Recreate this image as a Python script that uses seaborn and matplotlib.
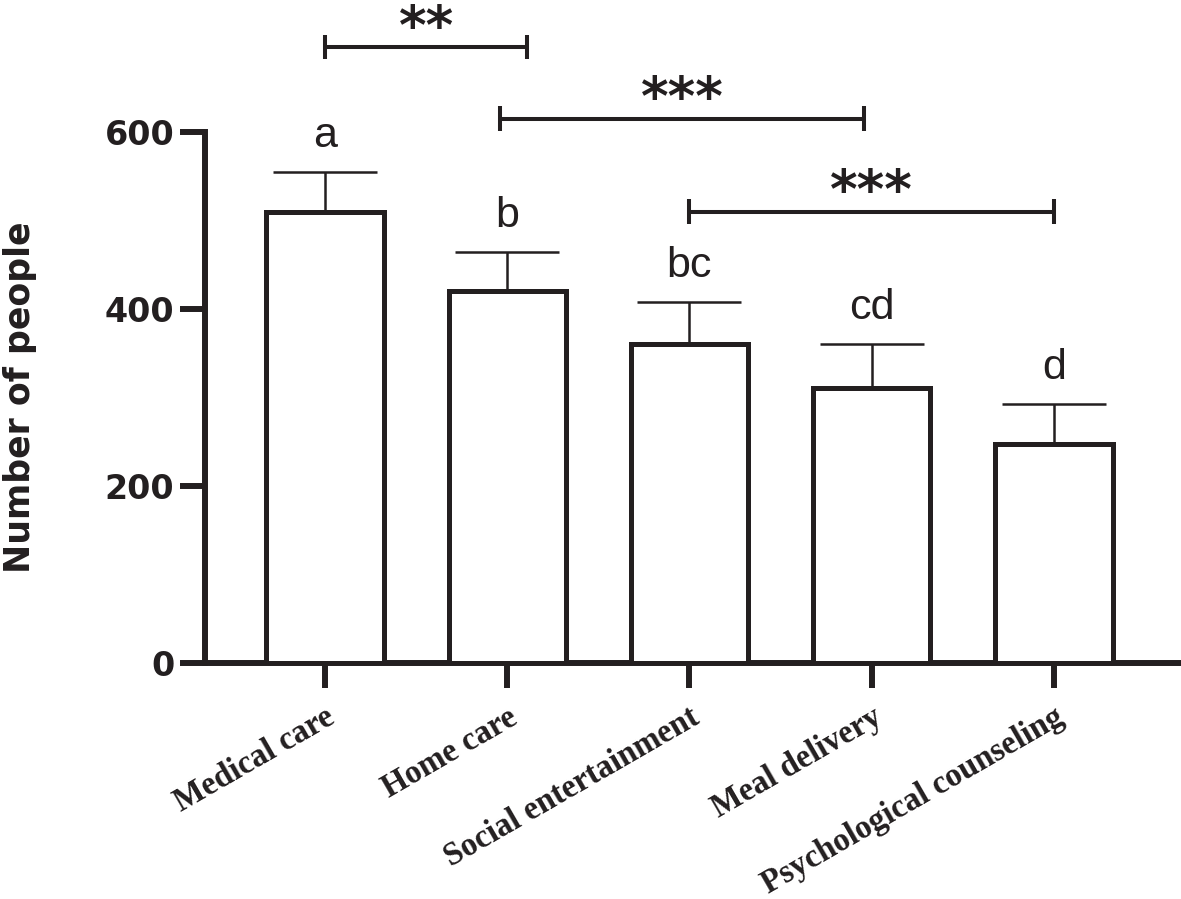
import matplotlib
matplotlib.use("Agg")
import matplotlib.pyplot as plt
import matplotlib.transforms as mtransforms
import seaborn as sns
import pandas as pd

# ---- data ----
categories = ["Medical care", "Home care", "Social entertainment",
              "Meal delivery", "Psychological counseling"]
means = [510, 420, 361, 311, 248]
errors = [45, 44, 47, 50, 45]
letters = ["a", "b", "bc", "cd", "d"]
y_ticks = [0, 200, 400, 600]
# significance brackets: (start position, end position, height, label)
bracket_start = [0.0, 0.96, 2.0]
bracket_end = [1.11, 2.96, 4.0]
bracket_height = [696, 615, 510]
bracket_label = ["**", "***", "***"]

INK = "#231f20"

sns.set_theme(style="ticks")
plt.rcParams["font.family"] = ["DejaVu Sans"]

fig = plt.figure(figsize=(11.81, 8.99), dpi=100)
ax = fig.add_axes([205 / 1181, (899 - 663) / 899, 1 - 205 / 1181, (663 - 132) / 899])

df = pd.DataFrame({"category": categories, "value": means})
sns.barplot(data=df, x="category", y="value", order=categories, ax=ax,
            color="white", edgecolor=INK, linewidth=3.6, width=0.643,
            errorbar=None, zorder=3)
for p in ax.patches:
    p.set_facecolor("white")
    p.set_edgecolor(INK)
    p.set_zorder(3)

xs = list(range(len(categories)))
ax.errorbar(xs, means, yerr=errors, fmt="none", ecolor=INK, elinewidth=1.8,
            capsize=37.8, capthick=1.8, zorder=2)

for x, m, e, lab in zip(xs, means, errors, letters):
    ax.annotate(lab, (x, m + e), xytext=(0, 18), textcoords="offset points",
                ha="center", va="baseline", fontsize=31, color=INK,
                family="Liberation Sans")

for x1, x2, h, lab in zip(bracket_start, bracket_end, bracket_height, bracket_label):
    ax.plot([x1, x2], [h, h], color=INK, lw=2.9, clip_on=False, solid_capstyle="butt")
    for xx in (x1, x2):
        ax.plot([xx, xx], [h - 14, h + 14], color=INK, lw=2.9, clip_on=False,
                solid_capstyle="butt")
    ax.annotate(lab, ((x1 + x2) / 2, h), xytext=(0, 2.5), textcoords="offset points",
                ha="center", va="baseline", fontsize=38, fontweight="bold",
                color=INK, family="DejaVu Sans", annotation_clip=False)

ax.set_ylim(0, 600)
ax.set_xlim(-0.658, 4.697)
ax.set_yticks(y_ticks)
ax.set_yticklabels([str(t) for t in y_ticks], fontsize=24, fontweight="heavy",
                   color=INK, family="DejaVu Sans")
ax.set_xticks(xs)
ax.set_xticklabels(categories, fontsize=23.5, fontweight="bold", color=INK,
                   family="Liberation Serif", rotation=30, ha="right",
                   va="top", rotation_mode="anchor")
offset = mtransforms.ScaledTranslation(8 / 100, 3 / 100, fig.dpi_scale_trans)
for lbl in ax.get_xticklabels():
    lbl.set_transform(lbl.get_transform() + offset)

ax.set_xlabel("")
ax.set_ylabel("Number of people", fontsize=25, fontweight="bold", color=INK,
              family="DejaVu Sans")
ax.yaxis.set_label_coords(-0.172, 0.5)

sns.despine(ax=ax)
for s in ("left", "bottom"):
    ax.spines[s].set_linewidth(4.3)
    ax.spines[s].set_color(INK)
ax.tick_params(axis="both", direction="out", length=18, width=4.3, color=INK)
ax.tick_params(axis="y", pad=4)
ax.tick_params(axis="x", pad=10)

fig.savefig("out.png", dpi=100)
